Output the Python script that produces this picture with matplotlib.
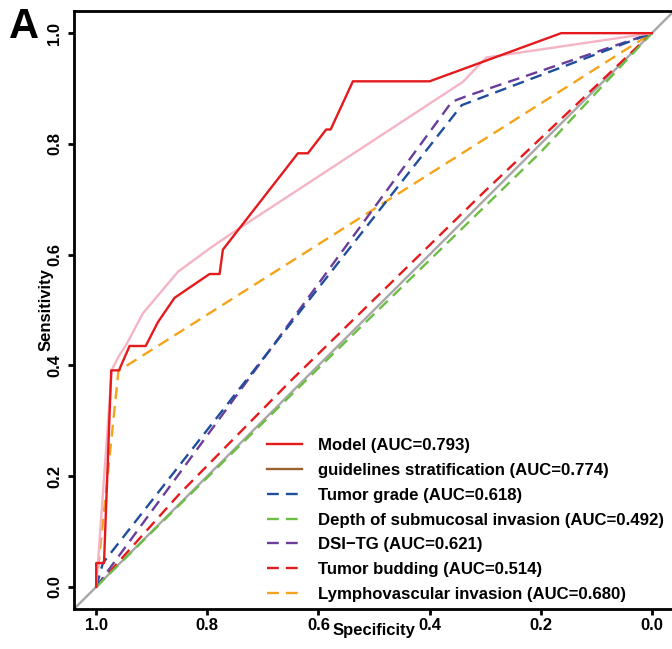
import matplotlib
matplotlib.use("Agg")
import matplotlib.pyplot as plt
from matplotlib.lines import Line2D

plt.rcParams['font.family'] = ['Liberation Sans', 'DejaVu Sans']
plt.rcParams['font.weight'] = 'bold'

# ROC curves (specificity, sensitivity)
model_spec = [1.0, 1.0, 0.986, 0.973, 0.959, 0.940, 0.911, 0.889, 0.859, 0.796, 0.778,
              0.772, 0.637, 0.619, 0.586, 0.578, 0.538, 0.400, 0.163, 0.0]
model_sens = [0.0, 0.043, 0.043, 0.391, 0.391, 0.435, 0.435, 0.478, 0.522, 0.565, 0.565,
              0.609, 0.783, 0.783, 0.826, 0.826, 0.913, 0.913, 1.0, 1.0]
guide_spec = [1.0, 0.972, 0.958, 0.946, 0.916, 0.853, 0.796, 0.748, 0.340, 0.298, 0.0]
guide_sens = [0.0, 0.392, 0.419, 0.437, 0.494, 0.569, 0.611, 0.644, 0.912, 0.956, 1.0]
grade_spec = [1.0, 0.988, 0.342, 0.0]
grade_sens = [0.0, 0.043, 0.870, 1.0]
depth_spec = [1.0, 0.6, 0.2, 0.0]
depth_sens = [0.0, 0.395, 0.785, 1.0]
dsitg_spec = [1.0, 0.36, 0.334, 0.0]
dsitg_sens = [0.0, 0.876, 0.886, 1.0]
budding_spec = [1.0, 0.85, 0.65, 0.3, 0.0]
budding_sens = [0.0, 0.168, 0.372, 0.715, 1.0]
lvi_spec = [1.0, 0.96, 0.0]
lvi_sens = [0.0, 0.39, 1.0]

labels = ["Model (AUC=0.793)",
          "guidelines stratification (AUC=0.774)",
          "Tumor grade (AUC=0.618)",
          "Depth of submucosal invasion (AUC=0.492)",
          "DSI\u2212TG (AUC=0.621)",
          "Tumor budding (AUC=0.514)",
          "Lymphovascular invasion (AUC=0.680)"]
legend_colors = ["#E41A1C", "#9A6230", "#1F4E9C", "#6DBE45", "#6A3D9A", "#E41A1C", "#F5A31A"]
legend_styles = ["-", "-", "--", "--", "--", "--", "--"]

fig = plt.figure(figsize=(6.72, 6.49), dpi=100)
ax = fig.add_axes([74 / 672, 40 / 649, 600 / 672, 598 / 649])

ax.axline((1, 0), (0, 1), color="#A8A8A8", lw=1.7, zorder=1)
dash = (5, 3)
lw = 1.7
ax.plot(lvi_spec, lvi_sens, color="#F5A31A", lw=lw, dashes=dash)
ax.plot(budding_spec, budding_sens, color="#E41A1C", lw=lw, dashes=dash)
ax.plot(dsitg_spec, dsitg_sens, color="#6A3D9A", lw=lw, dashes=dash)
ax.plot(depth_spec, depth_sens, color="#6DBE45", lw=lw, dashes=dash)
ax.plot(grade_spec, grade_sens, color="#1F4E9C", lw=lw, dashes=dash)
ax.plot(guide_spec, guide_sens, color="#F4B4C4", lw=lw)
ax.plot(model_spec, model_sens, color="#E41A1C", lw=lw)

ax.set_xlim(1.04, -0.04)
ax.set_ylim(-0.04, 1.04)
ticks = [1.0, 0.8, 0.6, 0.4, 0.2, 0.0]
ax.set_xticks(ticks)
ax.set_yticks(ticks)
ax.set_xticklabels([f"{t:.1f}" for t in ticks], fontsize=12, fontweight="bold")
ax.set_yticklabels([f"{t:.1f}" for t in ticks], fontsize=12, fontweight="bold",
                   rotation=90, va="center")
ax.tick_params(direction="out", length=4.5, width=2, pad=2)
ax.tick_params(axis="y", pad=4)
for s in ax.spines.values():
    s.set_linewidth(2)

ax.set_xlabel("Specificity", fontsize=12, fontweight="bold", va="top")
ax.xaxis.set_label_coords(0.5, -0.024)
ax.set_ylabel("Sensitivity", fontsize=12, fontweight="bold")
ax.yaxis.set_label_coords(-0.034, 0.5)

handles = [Line2D([], [], color=c, ls=s, lw=lw, dashes=(dash if s == "--" else (None, None)))
           for c, s in zip(legend_colors, legend_styles)]
ax.legend(handles, labels, loc="lower left", bbox_to_anchor=(0.322, 0.012), frameon=False,
          fontsize=12.1, handlelength=2.05, handletextpad=0.95, labelspacing=0.58,
          borderpad=0, borderaxespad=0)

fig.text(9 / 672, 1 - 7 / 649, "A", fontsize=30, fontweight="bold", va="top", ha="left")

fig.savefig("out.png", dpi=100)
